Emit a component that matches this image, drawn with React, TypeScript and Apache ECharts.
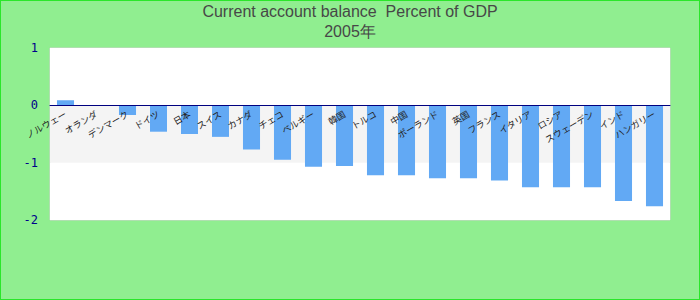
import React, { useEffect, useRef } from "react";
import * as echarts from "echarts";

const categories: string[] = [
  "ノルウェー",
  "オランダ",
  "デンマーク",
  "ドイツ",
  "日本",
  "スイス",
  "カナダ",
  "チェコ",
  "ベルギー",
  "韓国",
  "トルコ",
  "中国",
  "ポーランド",
  "英国",
  "フランス",
  "イタリア",
  "ロシア",
  "スウェーデン",
  "インド",
  "ハンガリー",
];

const values: number[] = [
  0.09, 0, -0.17, -0.46, -0.5, -0.55, -0.77, -0.95, -1.07, -1.06,
  -1.22, -1.22, -1.27, -1.27, -1.31, -1.43, -1.43, -1.43, -1.67, -1.76,
];

const yMin = -2;
const yMax = 1;

const titleLines: string[] = ["Current account balance  Percent of GDP", "2005年"];

const GRID_TOP = 47;
const GRID_BOTTOM = 79;
const CHART_H = 298;

export default function App() {
  const ref = useRef<HTMLDivElement>(null);

  useEffect(() => {
    document.body.style.margin = "0";
    if (!ref.current) return;
    const chart = echarts.init(ref.current, undefined, { renderer: "svg" });
    const gridH = CHART_H - GRID_TOP - GRID_BOTTOM;
    const zeroOffset = -(gridH * (0 - yMin)) / (yMax - yMin);
    chart.setOption({
      animation: false,
      backgroundColor: "#90ee90",
      title: {
        text: titleLines.join("\n"),
        left: "center",
        top: 0,
        padding: [0, 5],
        textStyle: {
          fontSize: 16,
          fontWeight: "normal",
          color: "#474747",
          fontFamily: "Liberation Sans, Arial, sans-serif",
          lineHeight: 20,
        },
      },
      grid: {
        left: 49,
        right: 29,
        top: GRID_TOP,
        bottom: GRID_BOTTOM,
        show: true,
        backgroundColor: "#ffffff",
        borderColor: "#d0d0d0",
        borderWidth: 1,
      },
      xAxis: {
        type: "category",
        data: categories,
        position: "bottom",
        offset: zeroOffset,
        z: 10,
        axisLine: { onZero: false, lineStyle: { color: "#000080", width: 1 } },
        axisTick: { show: false },
        axisLabel: {
          interval: 0,
          rotate: 30,
          fontSize: 9,
          color: "#222222",
          margin: 8,
          fontFamily: "Noto Sans CJK JP, sans-serif",
        },
        splitLine: { show: false },
      },
      yAxis: {
        type: "value",
        min: yMin,
        max: yMax,
        interval: 1,
        axisLine: { show: false },
        axisTick: { show: false },
        splitLine: { show: false },
        splitArea: { show: true, areaStyle: { color: ["#ffffff", "#f4f4f4"] } },
        axisLabel: {
          color: "#00008b",
          fontSize: 12,
          fontFamily: "DejaVu Sans Mono, monospace",
          margin: 12,
        },
      },
      series: [
        {
          type: "bar",
          data: values,
          barWidth: "55%",
          z: 2,
          itemStyle: { color: "#62a9f4" },
        },
      ],
    });
    return () => chart.dispose();
  }, []);

  return (
    <div
      style={{
        position: "fixed",
        left: 0,
        top: 0,
        width: 700,
        height: 300,
        boxSizing: "border-box",
        border: "1px solid #2ae62a",
        background: "#90ee90",
      }}
    >
      <div ref={ref} style={{ width: 698, height: CHART_H }} />
    </div>
  );
}
